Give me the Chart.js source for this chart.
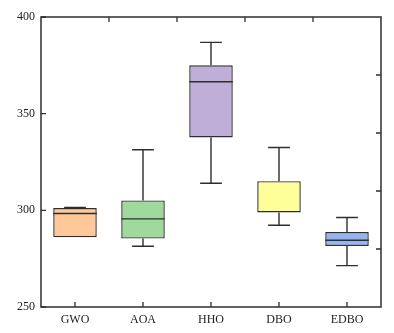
<!DOCTYPE html>
<html>
<head>
<meta charset="utf-8">
<script src="https://cdn.jsdelivr.net/npm/chart.js@4/dist/chart.umd.min.js"></script>
<style>
  html, body { margin: 0; padding: 0; background: #fff; }
  #wrap { width: 394px; height: 333px; }
</style>
</head>
<body>
<div id="wrap"><canvas id="boxChart"></canvas></div>
<script>
const algorithms = ["GWO", "AOA", "HHO", "DBO", "EDBO"];
const minValues = [286.1, 281.4, 314.0, 292.3, 271.4];
const q1Values = [286.1, 285.4, 337.7, 298.9, 281.6];
const medianValues = [298.4, 295.6, 366.5, 298.9, 284.5];
const q3Values = [301.2, 305.1, 375.0, 315.1, 288.8];
const maxValues = [301.5, 331.3, 386.9, 332.5, 296.3];
const boxColors = ["#FFC898", "#A0D99C", "#BFAED8", "#FFFF99", "#96B5F0"];
const yTicks = [250, 300, 350, 400];
const rightTicks = [280, 310, 340, 370];

const lineColor = "#2e2e2e";

const boxPlugin = {
  id: "boxExtras",
  afterDatasetsDraw(chart) {
    const { ctx, chartArea: a, scales: { x, y } } = chart;
    const meta = chart.getDatasetMeta(0);
    ctx.save();
    ctx.strokeStyle = lineColor;
    ctx.lineWidth = 1.4;

    meta.data.forEach((bar, i) => {
      const cx = bar.x;
      const half = bar.width / 2;
      const cap = bar.width / 4;
      ctx.beginPath();
      // upper whisker
      if (maxValues[i] > q3Values[i]) {
        ctx.moveTo(cx, y.getPixelForValue(q3Values[i]));
        ctx.lineTo(cx, y.getPixelForValue(maxValues[i]));
      }
      ctx.moveTo(cx - cap, y.getPixelForValue(maxValues[i]));
      ctx.lineTo(cx + cap, y.getPixelForValue(maxValues[i]));
      // lower whisker
      if (minValues[i] < q1Values[i]) {
        ctx.moveTo(cx, y.getPixelForValue(q1Values[i]));
        ctx.lineTo(cx, y.getPixelForValue(minValues[i]));
        ctx.moveTo(cx - cap, y.getPixelForValue(minValues[i]));
        ctx.lineTo(cx + cap, y.getPixelForValue(minValues[i]));
      }
      // median (skip when it sits on the box edge)
      if (medianValues[i] !== q1Values[i] && medianValues[i] !== q3Values[i]) {
        ctx.moveTo(cx - half, y.getPixelForValue(medianValues[i]));
        ctx.lineTo(cx + half, y.getPixelForValue(medianValues[i]));
      }
      ctx.stroke();
    });

    // frame
    ctx.lineWidth = 1.5;
    ctx.strokeRect(a.left, a.top, a.right - a.left, a.bottom - a.top);

    // inward ticks
    const tl = 5;
    ctx.lineWidth = 1.3;
    ctx.beginPath();
    yTicks.forEach(v => {
      const py = y.getPixelForValue(v);
      ctx.moveTo(a.left, py);
      ctx.lineTo(a.left + tl, py);
    });
    rightTicks.forEach(v => {
      const py = y.getPixelForValue(v);
      ctx.moveTo(a.right, py);
      ctx.lineTo(a.right - tl, py);
    });
    algorithms.forEach((_, i) => {
      const px = x.getPixelForValue(i);
      ctx.moveTo(px, a.bottom);
      ctx.lineTo(px, a.bottom - tl);
      if (i < algorithms.length - 1) {
        const bx = x.getPixelForValue(i + 0.5);
        ctx.moveTo(bx, a.top);
        ctx.lineTo(bx, a.top + tl);
      }
    });
    ctx.stroke();
    ctx.restore();
  }
};

const tickFont = { family: "'Liberation Serif', 'DejaVu Serif', serif", size: 12 };

new Chart(document.getElementById("boxChart").getContext("2d"), {
  type: "bar",
  data: {
    labels: algorithms,
    datasets: [{
      data: q1Values.map((q1, i) => [q1, q3Values[i]]),
      backgroundColor: boxColors,
      borderColor: lineColor,
      borderWidth: 1.4,
      borderSkipped: false,
      categoryPercentage: 1,
      barPercentage: 0.64
    }]
  },
  options: {
    responsive: true,
    maintainAspectRatio: false,
    animation: false,
    layout: { padding: { top: 17, right: 13, left: 0, bottom: 0 } },
    plugins: {
      legend: { display: false },
      tooltip: { enabled: false }
    },
    scales: {
      x: {
        offset: true,
        grid: { display: false, drawTicks: false },
        border: { display: false },
        ticks: { color: "#222", font: tickFont, padding: 6, maxRotation: 0 },
        afterFit(scale) { scale.height = 26; }
      },
      y: {
        min: 250,
        max: 400,
        grid: { display: false, drawTicks: false },
        border: { display: false },
        ticks: { stepSize: 50, color: "#222", font: tickFont, padding: 6 },
        afterFit(scale) { scale.width = 41; }
      }
    }
  },
  plugins: [boxPlugin]
});
</script>
</body>
</html>
